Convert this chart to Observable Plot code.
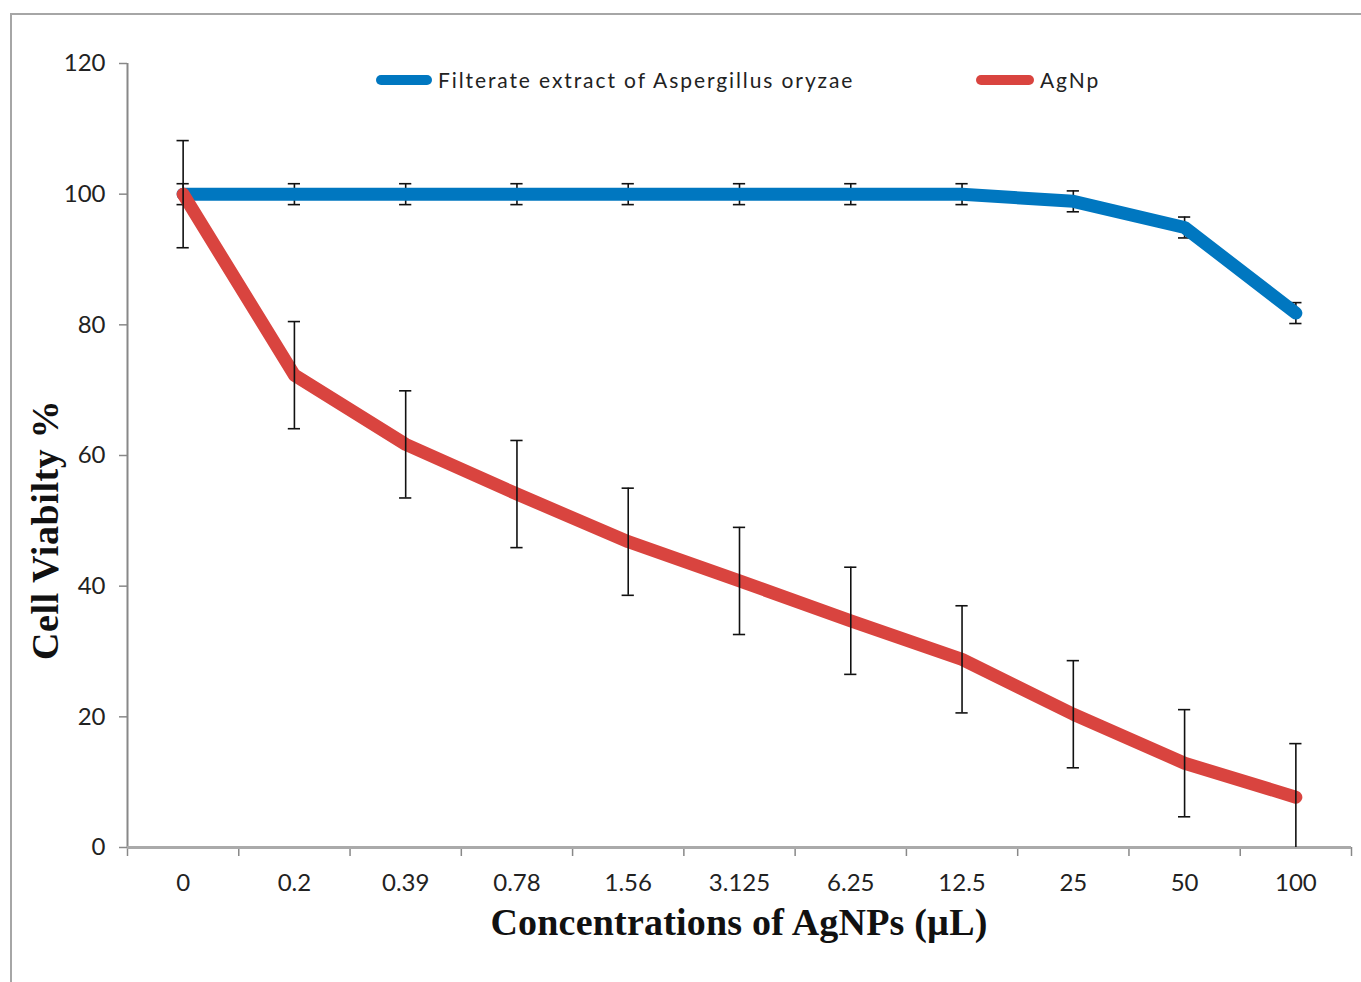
<!DOCTYPE html>
<html>
<head>
<meta charset="utf-8">
<script src="https://cdn.jsdelivr.net/npm/d3@7"></script>
<script src="https://cdn.jsdelivr.net/npm/@observablehq/plot@0.6"></script>
<style>
  body { margin: 0; background: #fff; }
  #wrap { position: relative; width: 1361px; height: 982px; overflow: hidden; background: #fff; }
  #frame { position: absolute; left: 10px; top: 13px; width: 1400px; height: 1000px;
           border-left: 2px solid #a6a6a6; border-top: 2px solid #a6a6a6; }
  #chart { position: absolute; left: 0; top: 0; }
  .leg { position: absolute; font-family: Lato, "Open Sans", sans-serif; font-size: 21px; color: #222;
         letter-spacing: 1.9px; display: flex; align-items: center; white-space: nowrap; line-height: 1; }
  .leg .sw { display: inline-block; height: 10px; border-radius: 5px; margin-right: 6px; }
  #xtitle { position: absolute; left: 739px; top: 903px; transform: translateX(-50%);
            font-family: "Liberation Serif", "Times New Roman", serif; font-weight: bold;
            font-size: 38px; color: #111; white-space: nowrap; line-height: 1; letter-spacing: 0.2px; }
  #ytitle { position: absolute; left: 45px; top: 530px; transform: translate(-50%, -50%) rotate(-90deg);
            font-family: "Liberation Serif", "Times New Roman", serif; font-weight: bold;
            font-size: 38px; color: #111; white-space: nowrap; line-height: 1; letter-spacing: 0.6px; }
</style>
</head>
<body>
<div id="wrap">
  <div id="frame"></div>
  <div id="chart"></div>
  <div class="leg" id="leg1" style="left:376px; top:69px;"></div>
  <div class="leg" id="leg2" style="left:976px; top:69px;"></div>
  <div id="xtitle">Concentrations of AgNPs (µL)</div>
  <div id="ytitle">Cell Viabilty %</div>
</div>
<script>
// ---- data ----
const concentrations = ["0", "0.2", "0.39", "0.78", "1.56", "3.125", "6.25", "12.5", "25", "50", "100"];
const filtrateName = "Filterate extract of Aspergillus oryzae";
const filtrateViability = [100, 100, 100, 100, 100, 100, 100, 100, 98.9, 94.9, 81.8];
const filtrateError = [1.6, 1.6, 1.6, 1.6, 1.6, 1.6, 1.6, 1.6, 1.6, 1.6, 1.6];
const agnpName = "AgNp";
const agnpViability = [100, 72.3, 61.7, 54.1, 46.8, 40.8, 34.7, 28.8, 20.4, 12.9, 7.7];
const agnpError = [8.2, 8.2, 8.2, 8.2, 8.2, 8.2, 8.2, 8.2, 8.2, 8.2, 8.2];
const yTicks = [0, 20, 40, 60, 80, 100, 120];

const blueColor = "#0077c0";
const redColor = "#d9443f";

// ---- build ----
const idx = concentrations.map((_, i) => i);
const bounds = idx.map(i => i - 0.5).concat([concentrations.length - 0.5]);
const rows = (vals, errs) => idx.map(i => ({i, v: vals[i], e: errs[i]}));
const blue = rows(filtrateViability, filtrateError);
const red = rows(agnpViability, agnpError);

const capHalf = 0.055;
const errStyle = {stroke: "#111", strokeWidth: 1.6};
const errMarks = data => [
  Plot.ruleX(data, {x: "i", y1: d => Math.max(0, d.v - d.e), y2: d => d.v + d.e, ...errStyle}),
  Plot.ruleY(data, {y: d => d.v + d.e, x1: d => d.i - capHalf, x2: d => d.i + capHalf, ...errStyle}),
  Plot.ruleY(data.filter(d => d.v - d.e >= 0), {y: d => d.v - d.e, x1: d => d.i - capHalf, x2: d => d.i + capHalf, ...errStyle})
];
const lineStyle = {strokeWidth: 13, strokeLinecap: "round", strokeLinejoin: "round"};

const chart = Plot.plot({
  width: 1361,
  height: 982,
  marginLeft: 127,
  marginRight: 10,
  marginTop: 63,
  marginBottom: 135,
  x: {domain: [-0.5, concentrations.length - 0.5], label: null},
  y: {domain: [0, 120], label: null},
  style: {fontFamily: "Lato, 'Open Sans', sans-serif", fontSize: "24px", color: "#222", background: "transparent", overflow: "visible"},
  marks: [
    Plot.axisY(yTicks, {tickSize: 8, tickPadding: 14, label: null, stroke: "#888", strokeWidth: 1.5, fontSize: 24}),
    Plot.axisX(bounds, {tickSize: 9, tickFormat: () => "", label: null, stroke: "#888", strokeWidth: 1.5}),
    Plot.axisX(idx, {tickSize: 0, tickPadding: 26, tickFormat: i => concentrations[i], label: null, fontSize: 24}),
    Plot.ruleX([-0.5], {stroke: "#888", strokeWidth: 2}),
    Plot.ruleY([0], {stroke: "#aaa", strokeWidth: 3}),
    ...errMarks(blue),
    Plot.line(blue, {x: "i", y: "v", stroke: blueColor, ...lineStyle}),
    Plot.line(red, {x: "i", y: "v", stroke: redColor, ...lineStyle}),
    ...errMarks(red)
  ]
});
document.getElementById("chart").appendChild(chart);

function legendItem(el, color, width, name) {
  const sw = document.createElement("span");
  sw.className = "sw";
  sw.style.background = color;
  sw.style.width = width + "px";
  el.appendChild(sw);
  el.appendChild(document.createTextNode(name));
}
legendItem(document.getElementById("leg1"), blueColor, 56, filtrateName);
legendItem(document.getElementById("leg2"), redColor, 58, agnpName);
</script>
</body>
</html>
